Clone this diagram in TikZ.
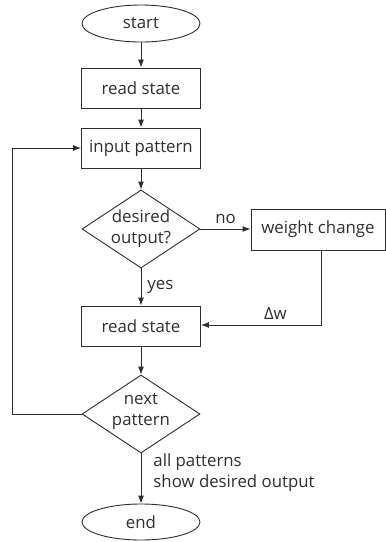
\documentclass[tikz,border=0pt]{standalone}
\usepackage{fontspec}
\setmainfont{Open Sans}
\usetikzlibrary{shapes.geometric,arrows.meta}
\definecolor{ink}{HTML}{2E2E2E}
\begin{document}
\begin{tikzpicture}[x=1pt,y=-1pt,
  every node/.style={text=ink,font=\fontsize{16.8}{21}\selectfont},
  box/.style={draw=ink,line width=0.9pt,rectangle,minimum width=119pt,minimum height=40pt,inner sep=0pt},
  term/.style={draw=ink,line width=0.9pt,ellipse,minimum width=118pt,minimum height=37pt,inner sep=0pt},
  dia/.style={draw=ink,line width=0.9pt,diamond,minimum width=118pt,minimum height=78pt,inner sep=0pt},
  lbl/.style={inner sep=0pt,align=left},
  conn/.style={draw=ink,line width=0.9pt,-{Latex[length=8pt,width=6pt]}}]
\useasboundingbox (0,0) rectangle (386,542);
\node[term] (start) at (141,23.5) {start};
\node[box] (rs1) at (141,88) {read state};
\node[box] (ip) at (141,148) {input pattern};
\node[dia] (d1) at (141,229) {};
\node[align=center,inner sep=0pt] (d1t) at (141,229) {desired\\output?};
\node[box,minimum width=134pt,minimum height=41pt] (wc) at (318,229.5) {weight change};
\node[box] (rs2) at (141,326) {read state};
\node[dia] (d2) at (141,414) {};
\node[align=center,inner sep=0pt] (d2t) at (141,411) {next\\pattern};
\node[term,minimum height=36pt] (end) at (141,522) {end};
\coordinate (wcb) at (321,325);
\coordinate (lp) at (12,414);
\draw[conn] (start) -- (rs1);
\draw[conn] (rs1) -- (ip);
\draw[conn] (ip) -- (d1);
\draw[conn] (d1.east) -- (wc.west|-d1.east) node[lbl,midway,above=5pt] (no) {no};
\draw[conn] (d1) -- (rs2) node[lbl,midway,right=6pt] (yes) {yes};
\draw[conn] (wcb|-wc.south) -- (wcb) -- (rs2.east|-wcb) node[lbl,pos=0.38,above=5pt] (dw) {Δw};
\draw[conn] (rs2) -- (d2);
\draw[conn] (d2) -- (end) node[lbl,pos=0.39,right=12pt] (ap) {all patterns\\show desired output};
\draw[conn] (d2.west) -- (lp) |- (ip.west);
\end{tikzpicture}
\end{document}
